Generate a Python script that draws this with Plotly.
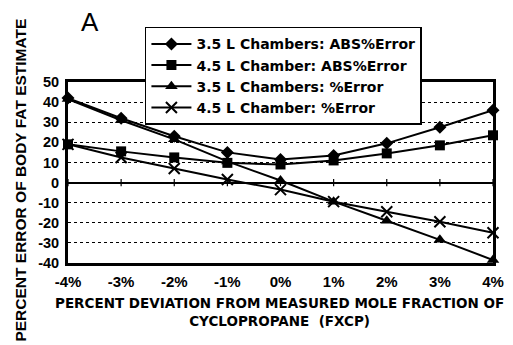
import plotly.graph_objects as go

x_vals = [-4, -3, -2, -1, 0, 1, 2, 3, 4]
x_labels = ["-4%", "-3%", "-2%", "-1%", "0%", "1%", "2%", "3%", "4%"]

abs_35 = [42, 32, 23, 15, 11.5, 13.5, 19.5, 27.5, 36]
abs_45 = [19, 15.5, 12.5, 9.8, 9, 11, 14.5, 18.5, 23.5]
pct_35 = [41.5, 31, 21.5, 10.5, 1, -9.5, -19, -28.5, -38.5]
pct_45 = [19, 12.5, 7, 1.5, -3.5, -9.5, -14.5, -19.5, -25]

y_ticks = [50, 40, 30, 20, 10, 0, -10, -20, -30, -40]

series_names = [
    "3.5 L Chambers: ABS%Error",
    "4.5 L Chamber: ABS%Error",
    "3.5 L Chambers: %Error",
    "4.5 L Chamber: %Error",
]
series_vals = [abs_35, abs_45, pct_35, pct_45]
symbols = ["diamond", "square", "triangle-up", "x-thin"]
sizes = [10, 10, 11, 11]

FONT = "Liberation Sans, Arial, sans-serif"
WIDE = "DejaVu Sans, Liberation Sans, sans-serif"

fig = go.Figure()
for name, vals, sym, sz in zip(series_names, series_vals, symbols, sizes):
    fig.add_trace(go.Scatter(
        x=x_vals, y=vals, mode="lines+markers", name="<b>" + name + "</b>",
        line=dict(color="black", width=2),
        marker=dict(symbol=sym, size=sz, color="black",
                    line=dict(color="black", width=2 if sym == "x-thin" else 0)),
        cliponaxis=False,
    ))

# small tick marks on the zero line at every category
for xv in x_vals:
    fig.add_shape(type="line", xref="x", yref="y", x0=xv, x1=xv, y0=-1.8, y1=1.8,
                  line=dict(color="black", width=1.2))

fig.update_layout(
    width=513, height=345,
    margin=dict(l=68, r=20, t=82, b=82, autoexpand=False),
    paper_bgcolor="white", plot_bgcolor="white",
    font=dict(family=FONT, color="black"),
    showlegend=True,
    legend=dict(
        x=0.181, y=1.305, xanchor="left", yanchor="top",
        bgcolor="white", bordercolor="black", borderwidth=1.5,
        font=dict(size=14, family=WIDE, color="black"),
        itemwidth=40, tracegroupgap=0,
    ),
    xaxis=dict(
        range=[-4, 4], tickvals=x_vals, ticktext=["<b>" + t + "</b>" for t in x_labels],
        showgrid=False, zeroline=False,
        showline=True, linecolor="black", linewidth=2.5, mirror=True,
        ticks="", tickfont=dict(size=15, family=FONT), ticklabelstandoff=3,
    ),
    yaxis=dict(
        range=[-40, 50],
        tickvals=y_ticks,
        ticktext=["<b>%d</b>" % v for v in y_ticks],
        showgrid=True, gridcolor="black", gridwidth=1, griddash="3px,3px",
        zeroline=True, zerolinecolor="black", zerolinewidth=1.5,
        showline=True, linecolor="black", linewidth=3, mirror=True,
        ticks="", tickfont=dict(size=14.5, family=FONT), ticklabelstandoff=3,
    ),
    annotations=[
        dict(text="A", xref="paper", yref="paper", x=0.026, y=1.332,
             xanchor="left", yanchor="middle", showarrow=False,
             font=dict(size=26, family=FONT, color="black")),
        dict(text="<b>PERCENT ERROR OF BODY FAT ESTIMATE</b>", textangle=-90,
             xref="paper", yref="paper", x=-0.111, y=0.46,
             xanchor="center", yanchor="middle", showarrow=False,
             font=dict(size=15.5, family=FONT, color="black")),
        dict(text="<b>PERCENT DEVIATION FROM MEASURED MOLE FRACTION OF</b><br><b>CYCLOPROPANE  (FXCP)</b>",
             xref="paper", yref="paper", x=0.497, y=-0.165,
             xanchor="center", yanchor="top", showarrow=False,
             font=dict(size=13.5, family=WIDE, color="black")),
    ],
)

fig.write_html("out.html", config={"displayModeBar": False},
               post_script="document.body.style.margin='0';document.body.style.overflow='hidden';")
